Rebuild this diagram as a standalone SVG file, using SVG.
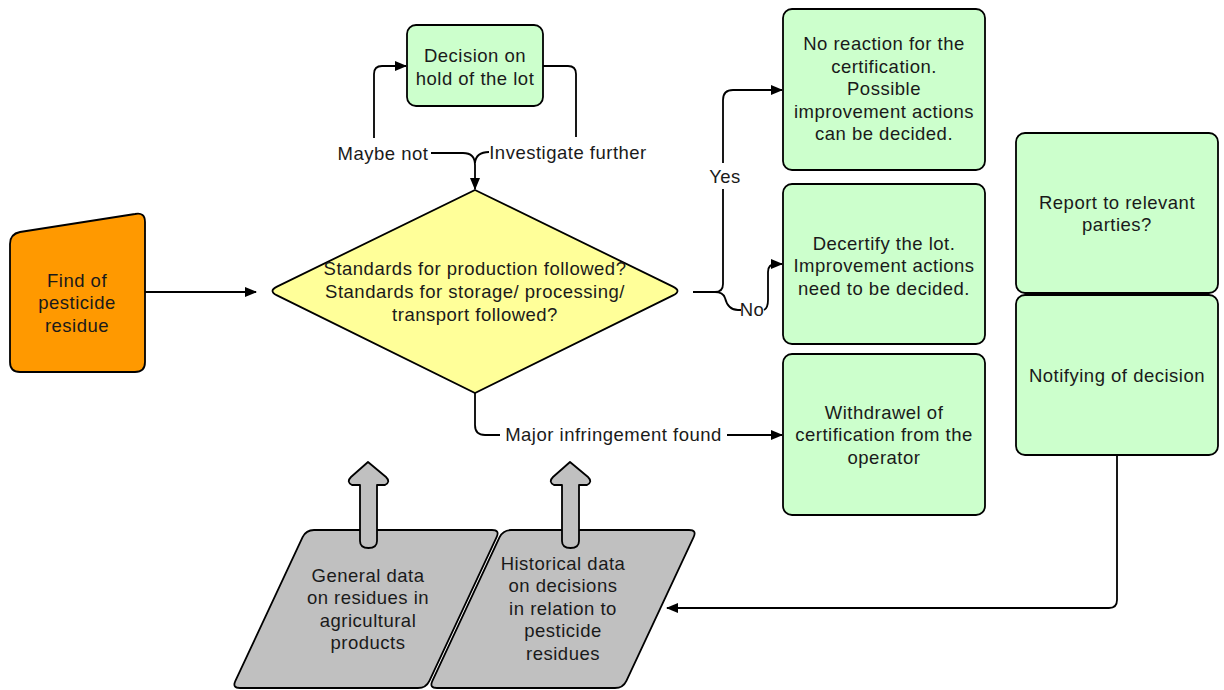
<svg xmlns="http://www.w3.org/2000/svg" width="1224" height="690" viewBox="0 0 1224 690">
<defs>
<marker id="arr" markerUnits="userSpaceOnUse" markerWidth="12" markerHeight="10" refX="11" refY="5" orient="auto">
<path d="M0,0 L12,5 L0,10 Z" fill="#000"/>
</marker>
<style>
.t{font-family:"Liberation Sans",Arial,sans-serif;font-size:18.5px;letter-spacing:0.5px;fill:#1a1a1a;text-anchor:middle}
.box{fill:#CCFFCC;stroke:#000;stroke-width:1.8}
.c{fill:none;stroke:#000;stroke-width:1.8}
.gray{fill:#C0C0C0;stroke:#000;stroke-width:1.8;stroke-linejoin:round}
</style>
</defs>
<rect width="1224" height="690" fill="#fff"/>

<g id="connectors">
<path class="c" d="M145,292 H256" marker-end="url(#arr)"/>
<path class="c" d="M374,138 V74 Q374,66 382,66 H406" marker-end="url(#arr)"/>
<path class="c" d="M543,66 H568 Q576,66 576,74 V137"/>
<path class="c" d="M431,153 H463 Q475,153 475,165 V189" marker-end="url(#arr)"/>
<path class="c" d="M489,152 Q476,152 475,163"/>
<path class="c" d="M693,292 H715 Q723,292 723,284 V189"/>
<path class="c" d="M723,163 V100 Q723,90 733,90 H782" marker-end="url(#arr)"/>
<path class="c" d="M715,292 Q723,292 725,298 Q728,310 738,310 H741"/>
<path class="c" d="M764,310 Q768,308 768,300 V272 Q768,264 776,264 H782" marker-end="url(#arr)"/>
<path class="c" d="M475,393 V425 Q475,435 485,435 H500"/>
<path class="c" d="M727,435 H782" marker-end="url(#arr)"/>
<path class="c" d="M1117,455 V600 Q1117,608 1109,608 H667" marker-end="url(#arr)"/>
<text class="t" x="383" y="159.5">Maybe not</text>
<text class="t" x="568" y="158.5">Investigate further</text>
<text class="t" x="725" y="182.5">Yes</text>
<text class="t" x="752" y="316">No</text>
<text class="t" x="613.5" y="441">Major infringement found</text>
</g>

<g id="find">
<path d="M10,244 Q10,234 20,232 L135,214 Q145,212 145,222 V362 Q145,372 135,372 H20 Q10,372 10,362 Z" fill="#FF9900" stroke="#000" stroke-width="1.8"/>
<text class="t" x="77" y="286.5">Find of</text>
<text class="t" x="77" y="309">pesticide</text>
<text class="t" x="77" y="331.5">residue</text>
</g>

<g id="decision-diamond">
<path d="M475,190 L673,286.6 Q682,291 673,295.4 L475,393 L277,295.4 Q268,291 277,286.6 Z" fill="#FFFF99" stroke="#000" stroke-width="1.8"/>
<text class="t" x="475" y="274.5">Standards for production followed?</text>
<text class="t" x="475" y="298">Standards for storage/ processing/</text>
<text class="t" x="475" y="321">transport followed?</text>
</g>

<g id="hold">
<rect class="box" x="407" y="25" width="136" height="81" rx="9"/>
<text class="t" x="475" y="61.5">Decision on</text>
<text class="t" x="475" y="84.5">hold of the lot</text>
</g>

<g id="no-reaction">
<rect class="box" x="783" y="9" width="202" height="161" rx="9"/>
<text class="t" x="884" y="50">No reaction for the</text>
<text class="t" x="884" y="72.5">certification.</text>
<text class="t" x="884" y="95">Possible</text>
<text class="t" x="884" y="117.5">improvement actions</text>
<text class="t" x="884" y="140">can be decided.</text>
</g>

<g id="decertify">
<rect class="box" x="783" y="184" width="202" height="160" rx="9"/>
<text class="t" x="884" y="249.5">Decertify the lot.</text>
<text class="t" x="884" y="272">Improvement actions</text>
<text class="t" x="884" y="294.5">need to be decided.</text>
</g>

<g id="withdrawel">
<rect class="box" x="783" y="354" width="202" height="161" rx="9"/>
<text class="t" x="884" y="418.5">Withdrawel of</text>
<text class="t" x="884" y="441">certification from the</text>
<text class="t" x="884" y="463.5">operator</text>
</g>

<g id="report">
<rect class="box" x="1016" y="133" width="202" height="160" rx="9"/>
<text class="t" x="1117" y="208.5">Report to relevant</text>
<text class="t" x="1117" y="231">parties?</text>
</g>

<g id="notifying">
<rect class="box" x="1016" y="295" width="202" height="160" rx="9"/>
<text class="t" x="1117" y="381.5">Notifying of decision</text>
</g>

<g id="general-data">
<path class="gray" d="M302.6,537.2 Q306,530 314,530 H492 Q500,530 496.6,537.2 L429.4,680.8 Q426,688 418,688 H240 Q232,688 235.4,680.8 Z"/>
<path class="gray" d="M368,462 L386,477 Q391,482 385,485 L377,485 V541 Q377,548 368.5,548 Q360,548 360,541 V485 L352,485 Q346,482 351,477 Z"/>
<text class="t" x="368" y="581.5">General data</text>
<text class="t" x="368" y="604">on residues in</text>
<text class="t" x="368" y="626.5">agricultural</text>
<text class="t" x="368" y="649">products</text>
</g>

<g id="historical-data">
<path class="gray" d="M499.6,537.2 Q503,530 511,530 H689 Q697,530 693.6,537.2 L626.4,680.8 Q623,688 615,688 H437 Q429,688 432.4,680.8 Z"/>
<path class="gray" d="M570,462 L588,477 Q593,482 587,485 L579,485 V541 Q579,548 570.5,548 Q562,548 562,541 V485 L554,485 Q548,482 553,477 Z"/>
<text class="t" x="563" y="569.5">Historical data</text>
<text class="t" x="563" y="592">on decisions</text>
<text class="t" x="563" y="614.5">in relation to</text>
<text class="t" x="563" y="637">pesticide</text>
<text class="t" x="563" y="660">residues</text>
</g>
</svg>
